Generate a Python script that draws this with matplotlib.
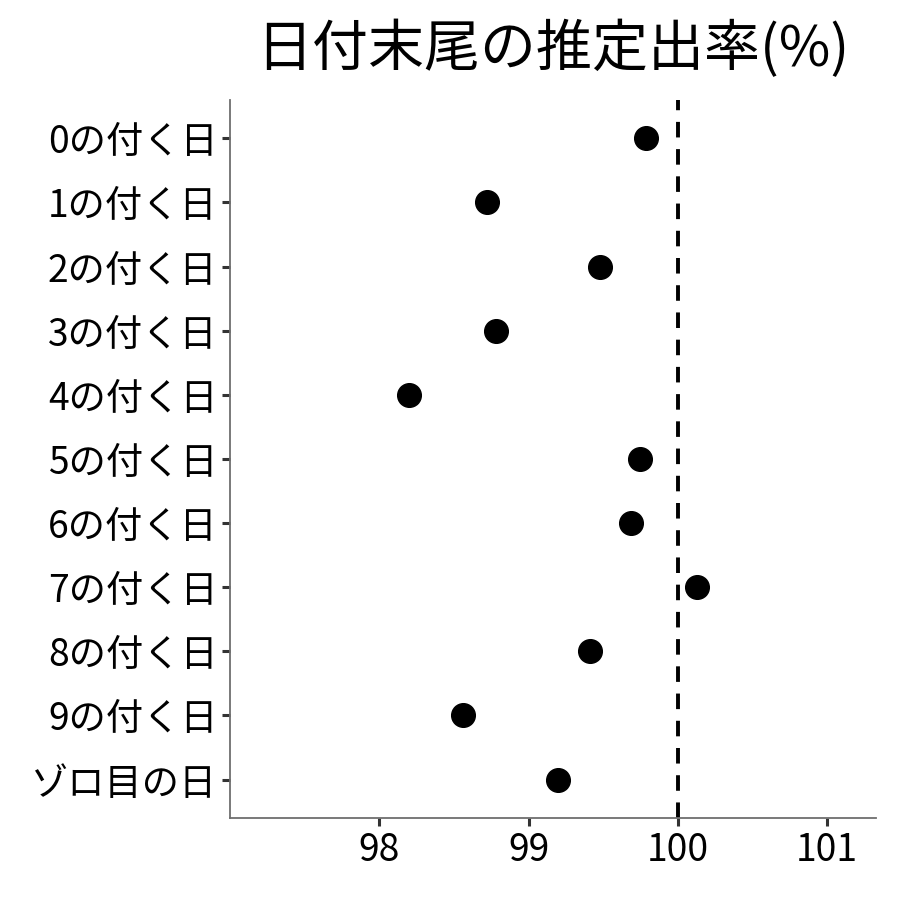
import matplotlib
matplotlib.use("Agg")
import matplotlib.pyplot as plt
import numpy as np

plt.rcParams['font.family'] = ['Noto Sans CJK JP', 'DejaVu Sans']

labels = ["0の付く日", "1の付く日", "2の付く日", "3の付く日", "4の付く日",
          "5の付く日", "6の付く日", "7の付く日", "8の付く日", "9の付く日",
          "ゾロ目の日"]
rates = [99.79, 98.72, 99.48, 98.78, 98.20, 99.75, 99.69, 100.13, 99.41, 98.56, 99.20]
xticks = [98, 99, 100, 101]

fig = plt.figure(figsize=(9, 9), dpi=100)
ax = fig.add_axes([0.2556, 0.0911, 0.718, 0.798])

y = np.arange(len(labels))[::-1]
ax.scatter(rates, y, s=290, color='black', zorder=3)
ax.axvline(100, color='black', linestyle=(0, (4, 3)), linewidth=2.8)

ax.set_xlim(97.0, 101.33)
ax.set_ylim(-0.6, len(labels) - 0.4)
ax.set_yticks(y)
ax.set_yticklabels(labels)
ax.set_xticks(xticks)
ax.set_xticklabels([str(t) for t in xticks])

for s in ['top', 'right']:
    ax.spines[s].set_visible(False)
for s in ['left', 'bottom']:
    ax.spines[s].set_color('#6e6e6e')
    ax.spines[s].set_linewidth(1.3)
ax.tick_params(axis='both', colors='#333333', width=2.2, length=6,
               labelsize=26.8, labelcolor='black', pad=3)

fig.text(0.614, 0.945, "日付末尾の推定出率(%)", fontsize=40.3, ha='center', va='center')

fig.savefig("out.png", dpi=100)
